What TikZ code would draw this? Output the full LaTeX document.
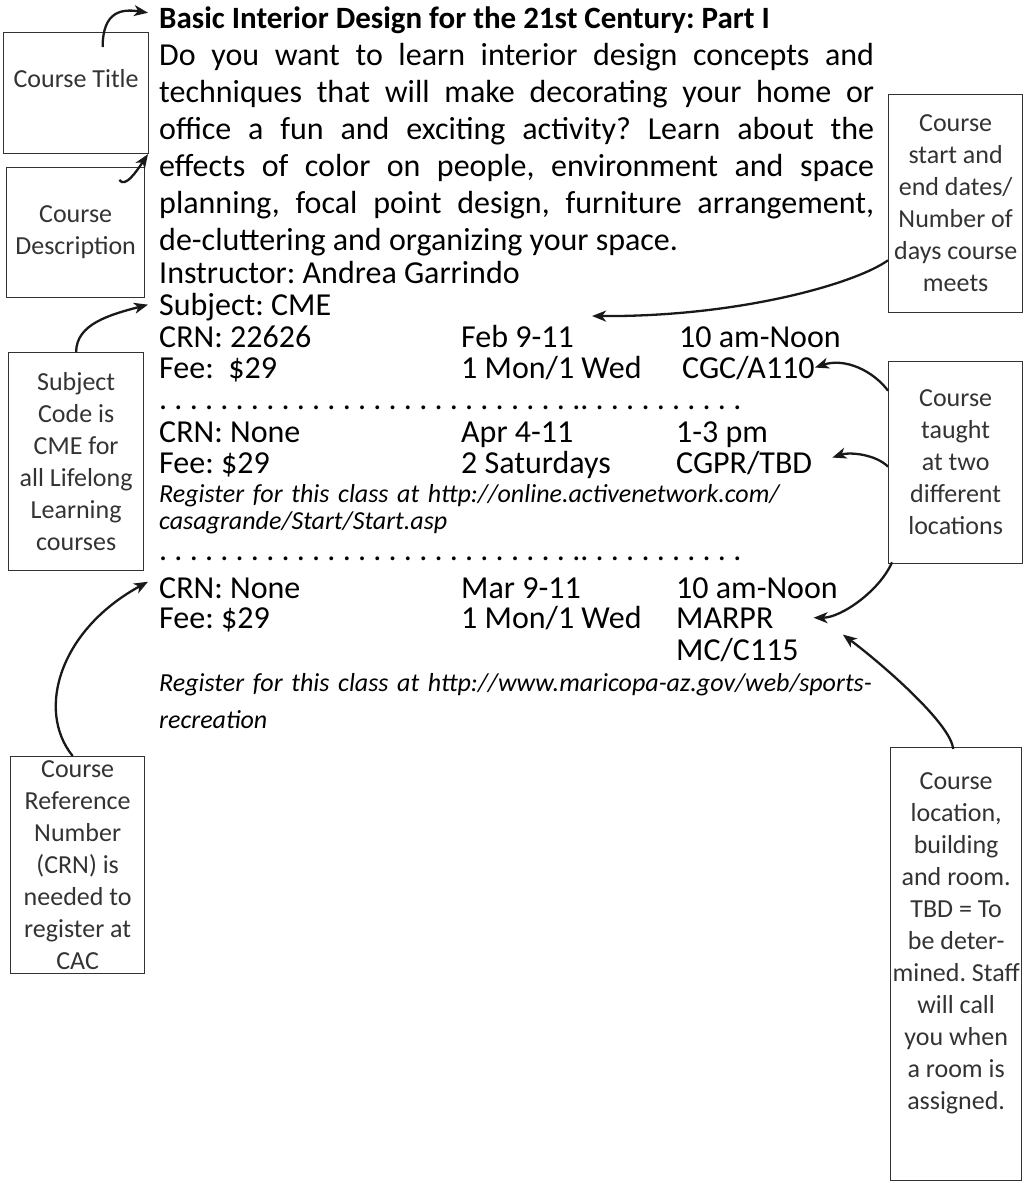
\documentclass[tikz,border=0pt]{standalone}
\usepackage{fontspec}
\setmainfont{Carlito}
\usetikzlibrary{arrows.meta,positioning,calc}

\newcommand{\bodysize}{\fontsize{32}{32}\selectfont}
\newcommand{\notesize}{\fontsize{26}{32}\selectfont}
\newcommand{\linksize}{\fontsize{26}{27}\selectfont\itshape}
\frenchspacing

\begin{document}
\begin{tikzpicture}[x=1pt, y=-1pt,
    notebox/.style={rectangle, draw=black!80, line width=1.3pt, anchor=north west, inner sep=0pt, align=flush center, font=\notesize, text=black!80},
    entry/.style={anchor=base west, inner sep=0pt, font=\bodysize},
    weblink/.style={anchor=base west, inner sep=0pt, text width=720pt, align=left, font=\linksize},
    pointer/.style={-{Stealth[length=14pt,width=11pt,inset=4pt]}, line width=2.3pt, black!90}]
  \useasboundingbox (0,0) rectangle (1032,1183);

  % Course listing
  \node[entry, font=\fontsize{31}{31}\selectfont\bfseries] (title) at (159,28) {Basic Interior Design for the 21st Century: Part I};
  \node[entry, text width=715pt, align=justify, font=\fontsize{32}{37}\selectfont] (para) at (159,65)
    {\tolerance=10000\hyphenpenalty=10000 Do you want to learn interior design concepts and\linebreak techniques that will make decorating your home or\linebreak office a fun and exciting activity? Learn about the\linebreak effects of color on people, environment and space\linebreak planning, focal point design, furniture arrangement,\linebreak de-cluttering and organizing your space.};
  \node[entry] (instr) at (159,283) {Instructor: Andrea Garrindo};
  \node[entry] (subj) at (159,315) {Subject: CME};

  % First section
  \node[entry] (crnA) at (159,347) {CRN: 22626};
  \node[entry] (feeA) at (159,378) {Fee: \ \$29};
  \node[entry] (dateA) at (461,347) {Feb 9-11};
  \node[entry] (daysA) at (461,378) {1 Mon/1 Wed};
  \node[entry] (timeA) at (679,347) {10 am-Noon};
  \node[entry] (roomA) at (682,378) {CGC/A110};
  \node[entry] (dotsA) at (159,409) {. . . . . . . . . . . . . . . . . . . . . . . . . . . .. . . . . . . . . . .};

  % Second section
  \node[entry] (crnB) at (159,442) {CRN: None};
  \node[entry] (feeB) at (159,473) {Fee: \$29};
  \node[entry] (dateB) at (461,442) {Apr 4-11};
  \node[entry] (daysB) at (461,473) {2 Saturdays};
  \node[entry] (timeB) at (676,442) {1-3 pm};
  \node[entry] (roomB) at (676,473) {CGPR/TBD};
  \node[weblink] (linkB) at (159,502) {Register for this class at http://online.activenetwork.com/\\casagrande/Start/Start.asp};
  \node[entry] (dotsB) at (159,560) {. . . . . . . . . . . . . . . . . . . . . . . . . . . .. . . . . . . . . . .};

  % Third section
  \node[entry] (crnC) at (159,598) {CRN: None};
  \node[entry] (feeC) at (159,628) {Fee: \$29};
  \node[entry] (dateC) at (461,598) {Mar 9-11};
  \node[entry] (daysC) at (461,628) {1 Mon/1 Wed};
  \node[entry] (timeC) at (676,598) {10 am-Noon};
  \node[entry] (roomC) at (676,628) {MARPR};
  \node[entry] (roomCb) at (676,660) {MC/C115};
  \node[weblink, font=\fontsize{26}{37}\selectfont\itshape] (linkC) at (159,691) {Register for this class at http://www.maricopa-az.gov/web/sports-\\recreation};

  % Notes
  \node[notebox, text width=145pt, minimum height=121pt] (titlebox) at (3,32) {Course Title\\[-3pt]\mbox{}};
  \node[notebox, text width=138pt, minimum height=130pt] (descbox) at (6,167) {Course\\Description};
  \node[notebox, text width=134pt, minimum height=218pt] (datesbox) at (888,94) {Course\\start and\\end dates/\\Number of\\days~course\\meets};
  \node[notebox, text width=135pt, minimum height=218pt] (subjbox) at (8,352) {Subject\\Code is\\CME for\\all~Lifelong\\Learning\\courses};
  \node[notebox, text width=134pt, minimum height=202pt] (taughtbox) at (888,361) {Course\\taught\\at two\\different\\locations};
  \node[notebox, text width=134pt, minimum height=217pt] (crnbox) at (10,756) {Course\\Reference\\Number\\(CRN) is\\needed~to\\register~at\\CAC};
  \node[notebox, text width=131pt, minimum height=433pt] (locbox) at (890,747) {Course\\location,\\building\\and~room.\\TBD = To\\be deter-\\mined.~Staff\\will call\\you~when\\a room is\\assigned.\\[14pt]\mbox{}};

  % Pointers
  \draw[pointer] ([xshift=26.5pt,yshift=-15pt]titlebox.north) .. controls +(0,-36) and +(-26,-4) .. ([xshift=-11pt,yshift=7pt]title.west);
  \draw[pointer] ([xshift=-26pt,yshift=-13pt]descbox.north east) .. controls +(6,8) and +(-12,18) .. ([xshift=-11pt,yshift=-5pt]para.west);
  \draw[pointer] (subjbox.north) .. controls +(0,-28) and +(-38,10) .. ([xshift=-11pt,yshift=2pt]subj.west);
  \draw[pointer] ([xshift=-5pt]crnbox.north) .. controls +(-37,-46) and +(-88,48) .. ([xshift=-11pt,yshift=6pt]crnC.west);
  \draw[pointer] ([yshift=53pt]datesbox.south west) .. controls +(-32,23) and +(148,1) .. ([xshift=18pt,yshift=20pt]dateA.east);
  \draw[pointer] ([yshift=72pt]taughtbox.west) .. controls +(-15,-20) and +(30,-10) .. (roomA.east);
  \draw[pointer] ([yshift=-4pt]taughtbox.west) .. controls +(-12,-12) and +(18,-6) .. ([xshift=20pt,yshift=5pt]roomB.east);
  \draw[pointer] ([xshift=4pt,yshift=2pt]taughtbox.south west) .. controls +(-12,28) and +(28,0) .. ([xshift=40pt]roomC.east);
  \draw[pointer] ([xshift=-3pt,yshift=-2pt]locbox.north) .. controls +(-2,-25) and +(40,30) .. ([xshift=44pt,yshift=15pt]roomCb.east);
\end{tikzpicture}
\end{document}
